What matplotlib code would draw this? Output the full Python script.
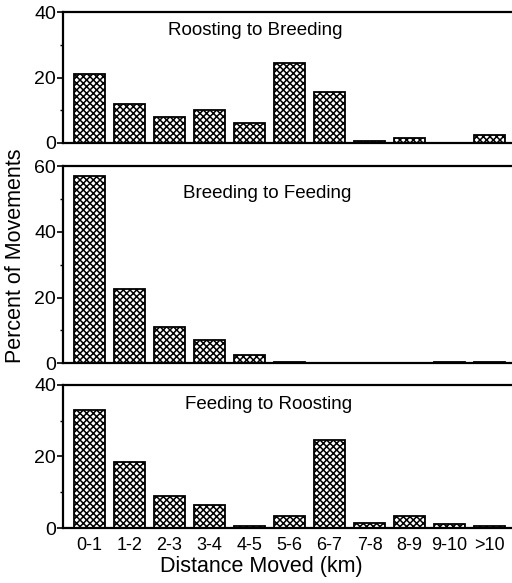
import matplotlib
matplotlib.use("Agg")
import matplotlib.pyplot as plt
import numpy as np

plt.rcParams['font.family'] = ['Liberation Sans', 'DejaVu Sans']
plt.rcParams['hatch.linewidth'] = 1.1

categories = ["0-1", "1-2", "2-3", "3-4", "4-5", "5-6", "6-7", "7-8", "8-9", "9-10", ">10"]
roost_to_breed = [21, 12, 8, 10, 6, 24.5, 15.5, 0.7, 1.5, 0, 2.5]
breed_to_feed = [57, 22.5, 11, 7, 2.5, 0.3, 0.2, 0.2, 0.2, 0.3, 0.5]
feed_to_roost = [33, 18.5, 9, 6.5, 0.7, 3.5, 24.5, 1.5, 3.5, 1.2, 0.5]

titles = ["Roosting to Breeding", "Breeding to Feeding", "Feeding to Roosting"]
series = [roost_to_breed, breed_to_feed, feed_to_roost]
ymaxes = [40, 60, 40]
# panel boxes in figure fraction: bottom, height
boxes = [(0.755, 0.224), (0.377, 0.338), (0.094, 0.246)]
title_x = [0.235, 0.267, 0.272]

fig = plt.figure(figsize=(5.12, 5.83), dpi=100)
x = np.arange(len(categories))

for i, (vals, title, ymax, (b, h)) in enumerate(zip(series, titles, ymaxes, boxes)):
    ax = fig.add_axes([0.123, b, 0.877, h])
    ax.bar(x, vals, width=0.77, color="white", edgecolor="black",
           hatch="xxxxx", linewidth=1.3)
    ax.set_xlim(-0.66, 10.56)
    ax.set_ylim(0, ymax)
    ax.set_yticks(np.arange(0, ymax + 1, 20))
    ax.set_yticks(np.arange(10, ymax, 20), minor=True)
    ax.spines['right'].set_visible(False)
    for s in ['left', 'top', 'bottom']:
        ax.spines[s].set_linewidth(1.6)
    ax.tick_params(axis='y', which='major', length=4, width=1.2, labelsize=14, pad=1)
    ax.tick_params(axis='y', which='minor', length=2.5, width=1)
    ax.text(title_x[i], 0.86, title, transform=ax.transAxes, fontsize=13.5,
            ha='left', va='center')
    if i < 2:
        ax.set_xticks([])
    else:
        ax.set_xticks(x)
        ax.set_xticklabels(categories)
        ax.tick_params(axis='x', length=0, labelsize=13, pad=6)

fig.text(0.51, 0.028, "Distance Moved (km)", fontsize=15.5, ha='center', va='center')
fig.text(0.031, 0.561, "Percent of Movements", rotation=90, fontsize=15.5,
         ha='center', va='center')

fig.savefig("out.png", dpi=100)
